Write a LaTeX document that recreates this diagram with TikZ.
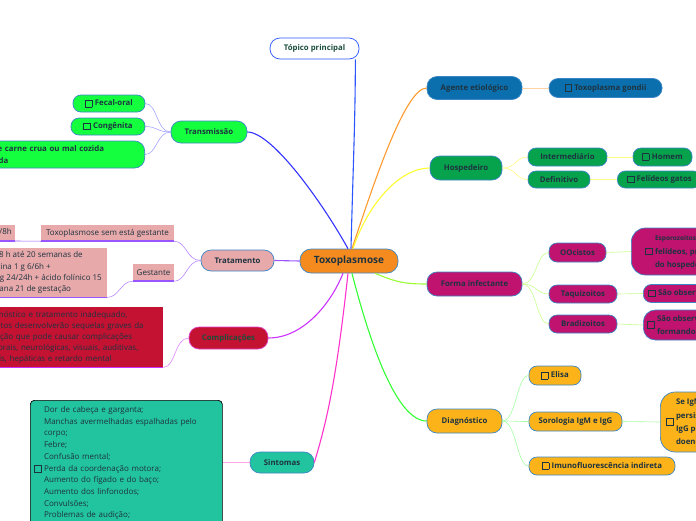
\documentclass[tikz,border=0pt]{standalone}
\usepackage{fontspec}
\setmainfont{Open Sans}

% cores dos nós
\definecolor{inkc}{HTML}{1E3340}
\definecolor{edgec}{HTML}{3C86C6}
\definecolor{topicc}{HTML}{1B4D3E}
\definecolor{rootc}{HTML}{F58B1F}
\definecolor{agentec}{HTML}{0B6FAE}
\definecolor{hospc}{HTML}{07A24C}
\definecolor{formac}{HTML}{C0136F}
\definecolor{diagc}{HTML}{FBB319}
\definecolor{transc}{HTML}{14FF3E}
\definecolor{tratc}{HTML}{E8A9AA}
\definecolor{compc}{HTML}{C41232}
\definecolor{compe}{HTML}{E040C8}
\definecolor{compt}{HTML}{1E4D3A}
\definecolor{sintc}{HTML}{22C39F}
% cores das linhas
\definecolor{topicl}{HTML}{2A55FF}
\definecolor{agentel}{HTML}{FF9A2E}
\definecolor{hospl}{HTML}{FFFF30}
\definecolor{formal}{HTML}{99FF33}
\definecolor{diagl}{HTML}{33FF33}
\definecolor{sintl}{HTML}{FF33CC}
\definecolor{compl}{HTML}{CC33FF}
\definecolor{tratl}{HTML}{9955FF}
\definecolor{transl}{HTML}{3333FF}

\newcommand{\chk}{\raisebox{-0.8pt}{\setlength{\fboxsep}{0pt}\setlength{\fboxrule}{0.45pt}\fbox{\rule{0pt}{6.3pt}\hspace{6.3pt}}}\hspace{2.5pt}}
\newcommand{\celltext}[1]{\begin{tabular}{@{}l@{}}#1\end{tabular}}

\begin{document}
\begin{tikzpicture}[x=1pt, y=-1pt,
    every node/.style={text=inkc},
    pill/.style={draw=edgec, line width=0.7pt, rounded corners=10pt, minimum height=23pt,
      inner sep=0pt, font=\bfseries\fontsize{7.8}{9}\selectfont},
    leaf/.style={pill, rounded corners=8pt, minimum height=18pt},
    card/.style={draw=edgec, line width=0.7pt, rounded corners=13pt, inner xsep=5pt,
      inner ysep=0pt, font=\bfseries\fontsize{7.8}{13.3}\selectfont},
    slip/.style={inner sep=0pt, font=\fontsize{8}{9}\selectfont, uline},
    memo/.style={inner xsep=4pt, inner ysep=2pt, align=left, font=\fontsize{8}{11.3}\selectfont},
    uline/.style={append after command={(\tikzlastnode.south west)
      edge[draw=#1, line width=1.5pt] (\tikzlastnode.south east)}},
    uline/.default=tratl,
    trunk/.style={line width=1.1pt},
    twig/.style={line width=0.6pt}]

    \useasboundingbox (0,0) rectangle (696,520);

    % ─────────── raiz ──────────────────────────────────────────────────
    \node[pill, fill=rootc, minimum width=98pt, minimum height=24pt, rounded corners=11pt,
      font=\bfseries\fontsize{10}{12}\selectfont] (toxo) at (349,261) {Toxoplasmose};
    \node[pill, fill=white, draw=topicl, minimum width=89pt, minimum height=21pt,
      text=topicc] (topico) at (314.5,48.5) {Tópico principal};

    % ─────────── agente etiológico ─────────────────────────────────────
    \node[pill, fill=agentec, minimum width=95pt] (agente) at (474.5,88) {Agente etiológico};
    \node[leaf, fill=agentec, minimum width=113pt, minimum height=19pt, rounded corners=9pt]
      (gondii) at (605.5,88) {\chk Toxoplasma gondii};

    % ─────────── hospedeiro ────────────────────────────────────────────
    \node[pill, fill=hospc, minimum width=72pt, minimum height=24pt] (hosp) at (466,168) {Hospedeiro};
    \node[leaf, fill=hospc, minimum width=79pt] (inter) at (567.5,157) {Intermediário};
    \node[leaf, fill=hospc, minimum width=62pt, minimum height=17pt] (defin) at (559,179.5) {Definitivo};
    \node[leaf, fill=hospc, minimum width=59pt] (homem) at (662.5,157) {\chk Homem};
    \node[leaf, fill=hospc, minimum width=84pt, minimum height=17pt, anchor=west]
      (felid) at (617,179.5) {\chk Felídeos gatos};

    % ─────────── forma infectante ──────────────────────────────────────
    \node[pill, fill=formac, minimum width=95pt, minimum height=24pt] (forma) at (474.5,284) {Forma infectante};
    \node[leaf, fill=formac, minimum width=57pt, minimum height=19pt] (oocis) at (577.5,252.5) {OOcistos};
    \node[leaf, fill=formac, minimum width=68pt] (taqui) at (583,294) {Taquizoitos};
    \node[leaf, fill=formac, minimum width=68pt] (bradi) at (583,324) {Bradizoitos};
    \node[card, fill=formac, anchor=west, minimum height=47pt, rounded corners=14pt, inner xsep=14pt]
      (esporo) at (631,251.5) {\chk\celltext{{\fontsize{6.5}{8}\selectfont Esporozoitos eliminados nas fezes de}\\
      felídeos, presentes no solo\\do hospedeiro definitivo}};
    \node[leaf, fill=formac, anchor=west, inner xsep=5pt] (taquitxt) at (643,293.5)
      {\chk São observados na fase aguda};
    \node[card, fill=formac, anchor=west, minimum height=30pt, rounded corners=12pt, inner xsep=4pt]
      (braditxt) at (643,325) {\chk\celltext{São observados em cistos\\formando a fase crônica}};

    % ─────────── diagnóstico ───────────────────────────────────────────
    \node[pill, fill=diagc, minimum width=75pt, minimum height=24pt] (diag) at (464.5,421) {Diagnóstico};
    \node[leaf, fill=diagc, minimum width=52pt, minimum height=19pt] (elisa) at (555,375.5) {\chk Elisa};
    \node[leaf, fill=diagc, minimum width=93pt, minimum height=19pt] (soro) at (575.5,421.5) {Sorologia IgM e IgG};
    \node[leaf, fill=diagc, minimum width=146pt] (imuno) at (602,466) {\chk Imunofluorescência indireta};
    \node[card, fill=diagc, anchor=west, minimum height=60pt, rounded corners=15pt, inner xsep=6pt]
      (sorotxt) at (660,422) {\chk\celltext{Se IgM positivo indica infecção aguda\\
      persistindo por alguns meses;\\IgG positivo indica contato prévio\\doença crônica}};

    % ─────────── transmissão ───────────────────────────────────────────
    \node[pill, fill=transc, minimum width=76pt, minimum height=22pt] (trans) at (209,132) {Transmissão};
    \node[leaf, fill=transc, minimum width=72pt, minimum height=17pt] (fecal) at (109,103.5) {\chk Fecal-oral};
    \node[leaf, fill=transc, minimum width=74pt, minimum height=17pt] (cong) at (108,126.5) {\chk Congênita};
    \node[leaf, fill=transc, anchor=east, minimum height=27pt, rounded corners=10pt, inner xsep=6pt,
      text width=182pt, align=left, font=\bfseries\fontsize{7.8}{11.5}\selectfont]
      (ingest) at (145,154.5) {Ingestão de carne crua ou mal cozida\\contaminada};

    % ─────────── tratamento ────────────────────────────────────────────
    \node[pill, fill=tratc, minimum width=73pt, minimum height=21pt] (trat) at (237.5,260.5) {Tratamento};
    \node[slip, fill=tratc, minimum width=133pt, minimum height=16pt] (semg) at (107.5,233)
      {Toxoplasmose sem está gestante};
    \node[slip, fill=tratc, anchor=south east, minimum height=16pt, inner xsep=3pt] (dose) at (15,241)
      {Pirimetamina 25 mg 8/8h};
    \node[slip, fill=tratc, minimum width=41pt, minimum height=17pt] (gest) at (153.5,272.5) {Gestante};
    \node[memo, fill=tratc, uline, anchor=north east, inner xsep=5pt, minimum height=49pt]
      (gtext) at (107,248) {Espiramicina 1 g 8/8 h até 20 semanas de\\gestação. Sulfadiazina 1 g 6/6h +\\
      pirimetamina 50 mg 24/24h + ácido folínico 15\\mg a partir da semana 21 de gestação};

    % ─────────── complicações ──────────────────────────────────────────
    \node[pill, fill=compc, draw=compe, minimum width=79pt, minimum height=22pt, text=compt]
      (comp) at (228.5,338) {Complicações};
    \node[memo, fill=compc, uline=compl, anchor=north west, text width=177pt, minimum height=60pt,
      font=\fontsize{8}{11}\selectfont] (ctext) at (-22,307)
      {Diagnóstico e tratamento inadequado,\\os fetos desenvolverão sequelas graves da\\
      infecção que pode causar complicações\\cerebrais,  neurológicas, visuais, auditivas,\\
      renais, hepáticas e retardo mental};

    % ─────────── sintomas ──────────────────────────────────────────────
    \node[pill, fill=sintc, minimum width=64pt, minimum height=21pt] (sint) at (282,462.5) {Sintomas};
    \node[draw=black, line width=0.7pt, fill=sintc, rounded corners=4pt, anchor=north west,
      text width=184pt, inner xsep=4pt, inner ysep=4pt, font=\fontsize{8}{11.7}\selectfont]
      (stext) at (30,400) {\chk\celltext{Dor de cabeça e garganta;\\Manchas avermelhadas espalhadas pelo\\
      corpo;\\Febre;\\Confusão mental;\\Perda da coordenação motora;\\Aumento do fígado e do baço;\\
      Aumento dos linfonodos;\\Convulsões;\\Problemas de audição;\\Problemas na retina;}};

    % ─────────── ramos principais ──────────────────────────────────────
    \draw[trunk, topicl] ([xshift=2pt]toxo.north) .. controls +(2,-80) and +(0,60) .. ([xshift=-4pt]topico.south east);
    \draw[trunk, agentel] ([xshift=3pt]toxo.north) .. controls +(20,-60) and +(-22,0) .. (agente.west);
    \draw[trunk, hospl] ([xshift=4pt]toxo.north) .. controls +(15,-45) and +(-30,0) .. (hosp.west);
    \draw[trunk, transl] ([xshift=-1pt]toxo.north) .. controls +(-25,-45) and +(25,0) .. (trans.east);
    \draw[trunk, tratl] (toxo.west) -- (trat.east);
    \draw[trunk, formal] ([xshift=26pt]toxo.south) .. controls +(20,8) and +(-25,0) .. (forma.west);
    \draw[trunk, diagl] ([xshift=3pt]toxo.south) .. controls +(18,70) and +(-30,0) .. (diag.west);
    \draw[trunk, sintl] ([xshift=-1pt]toxo.south) .. controls +(-12,110) and +(12,-40) .. (sint.east);
    \draw[trunk, compl] ([xshift=-6pt]toxo.south) .. controls +(-12,30) and +(35,0) .. (comp.east);

    % ─────────── ramos secundários ─────────────────────────────────────
    \draw[twig, agentel!45] (agente.east) -- (gondii.west);
    \draw[twig, hospl!60] (hosp.east) .. controls +(14,0) and +(-12,0) .. (inter.west);
    \draw[twig, hospl!60] (hosp.east) .. controls +(14,0) and +(-12,0) .. (defin.west);
    \draw[twig, hospl!60] (inter.east) -- (homem.west);
    \draw[twig, hospl!60] (defin.east) -- (felid.west);
    \draw[twig, formal!55] (forma.east) .. controls +(14,0) and +(-12,0) .. (oocis.west);
    \draw[twig, formal!55] (forma.east) .. controls +(14,0) and +(-12,0) .. (taqui.west);
    \draw[twig, formal!55] (forma.east) .. controls +(14,0) and +(-12,0) .. (bradi.west);
    \draw[twig, formal!55] (oocis.east) -- (esporo.west);
    \draw[twig, formal!55] (taqui.east) -- (taquitxt.west);
    \draw[twig, formal!55] (bradi.east) -- (braditxt.west);
    \draw[twig, diagl!45] (diag.east) .. controls +(14,0) and +(-12,0) .. (elisa.west);
    \draw[twig, diagl!45] (diag.east) .. controls +(14,0) and +(-12,0) .. (soro.west);
    \draw[twig, diagl!45] (diag.east) .. controls +(14,0) and +(-12,0) .. (imuno.west);
    \draw[twig, diagl!45] (soro.east) -- (sorotxt.west);
    \draw[twig, transl!45] (trans.west) .. controls +(-14,0) and +(12,0) .. (fecal.east);
    \draw[twig, transl!45] (trans.west) .. controls +(-14,0) and +(12,0) .. (cong.east);
    \draw[twig, transl!45] (trans.west) .. controls +(-14,0) and +(12,0) .. (ingest.east);
    \draw[twig, tratl!70] (trat.west) .. controls +(-14,0) and +(12,0) .. (semg.south east);
    \draw[twig, tratl!70] (trat.west) .. controls +(-14,0) and +(12,0) .. (gest.south east);
    \draw[twig, tratl] (semg.south west) -- (dose.south east);
    \draw[twig, tratl!70] (gest.south west) .. controls +(-12,0) and +(12,0) .. (gtext.south east);
    \draw[twig, compl!60] (comp.west) .. controls +(-14,0) and +(12,0) .. (ctext.south east);
    \draw[twig, sintl!45] (sint.west) -- (sint.west -| stext.east);
\end{tikzpicture}
\end{document}
